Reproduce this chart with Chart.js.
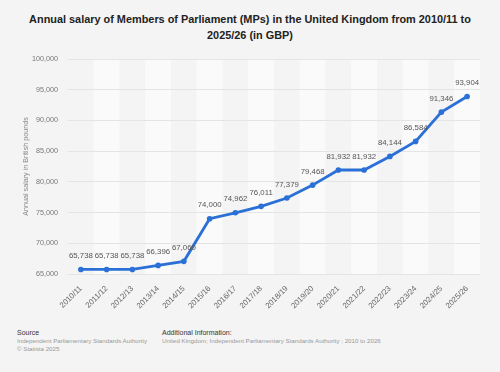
<!DOCTYPE html>
<html lang="en">
<head>
    <meta charset="UTF-8">
    <title>Annual salary of MPs in the UK</title>
    <style>
        body {
            margin: 0;
            background: #f4f4f4;
            font-family: 'Liberation Sans', Arial, sans-serif;
            width: 500px;
            height: 372px;
            position: relative;
            overflow: hidden;
        }
        .title {
            position: absolute;
            left: 0;
            top: 11px;
            width: 500px;
            text-align: center;
            font-weight: bold;
            font-size: 10.9px;
            line-height: 16px;
            color: #222;
        }
        #chart {
            position: absolute;
            left: 0;
            top: 0;
        }
        .foot {
            position: absolute;
            top: 329px;
            font-size: 6.2px;
            line-height: 8px;
            color: #999;
        }
        .foot b {
            color: #333;
            font-weight: normal;
            font-size: 7px;
        }
    </style>
</head>
<body>
    <div class="title">Annual salary of Members of Parliament (MPs) in the United Kingdom from 2010/11 to<br>2025/26 (in GBP)</div>
    <canvas id="chart" width="500" height="320"></canvas>
    <div class="foot" style="left:17px"><b>Source</b><br>Independent Parliamentary Standards Authority<br>© Statista 2025</div>
    <div class="foot" style="left:162px"><b>Additional Information:</b><br>United Kingdom; Independent Parliamentary Standards Authority ; 2010 to 2026</div>
    <script src="https://cdn.jsdelivr.net/npm/chart.js"></script>
    <script>
        const years = ['2010/11', '2011/12', '2012/13', '2013/14', '2014/15', '2015/16', '2016/17', '2017/18',
            '2018/19', '2019/20', '2020/21', '2021/22', '2022/23', '2023/24', '2024/25', '2025/26'];
        const salary = [65738, 65738, 65738, 66396, 67060, 74000, 74962, 76011,
            77379, 79468, 81932, 81932, 84144, 86584, 91346, 93904];
        const yTicks = [65000, 70000, 75000, 80000, 85000, 90000, 95000, 100000];

        const fmt = v => v.toLocaleString('en-US');
        const fam = '"Liberation Sans", Arial, sans-serif';

        // light stripes behind every second year
        const stripes = {
            id: 'stripes',
            beforeDraw(chart) {
                const { ctx, chartArea, scales } = chart;
                const w = scales.x.getPixelForValue(1) - scales.x.getPixelForValue(0);
                ctx.save();
                ctx.fillStyle = '#fafafa';
                years.forEach((y, i) => {
                    if (i % 2 === 1) {
                        const cx = scales.x.getPixelForValue(i);
                        ctx.fillRect(cx - w / 2, chartArea.top, w, chartArea.bottom - chartArea.top);
                    }
                });
                ctx.restore();
            }
        };

        const valueLabels = {
            id: 'valueLabels',
            afterDatasetsDraw(chart) {
                const { ctx } = chart;
                const meta = chart.getDatasetMeta(0);
                ctx.save();
                ctx.font = '7.8px ' + fam;
                ctx.fillStyle = '#555';
                ctx.textAlign = 'center';
                ctx.textBaseline = 'middle';
                meta.data.forEach((pt, i) => {
                    ctx.fillText(fmt(salary[i]), pt.x, pt.y - 13.5);
                });
                ctx.restore();
            }
        };

        new Chart(document.getElementById('chart'), {
            type: 'line',
            data: {
                labels: years,
                datasets: [{
                    data: salary,
                    borderColor: '#2a70d6',
                    backgroundColor: '#2a70d6',
                    borderWidth: 2.8,
                    pointRadius: 2.8,
                    pointBorderWidth: 0,
                    tension: 0
                }]
            },
            options: {
                responsive: false,
                devicePixelRatio: 1,
                animation: false,
                layout: { padding: { top: 59, right: 20, left: 22, bottom: 0 } },
                plugins: {
                    legend: { display: false },
                    tooltip: { enabled: false }
                },
                scales: {
                    x: {
                        offset: true,
                        grid: { display: false },
                        border: { display: false },
                        ticks: {
                            color: '#666',
                            font: { size: 7.8, family: fam },
                            minRotation: 45,
                            maxRotation: 45,
                            padding: 2
                        },
                        afterFit(s) { s.height = 46; }
                    },
                    y: {
                        min: 65000,
                        max: 100000,
                        afterBuildTicks(s) { s.ticks = yTicks.map(v => ({ value: v })); },
                        grid: { color: '#e4e4e4', drawTicks: false },
                        border: { display: false },
                        ticks: {
                            color: '#777',
                            padding: 10,
                            font: { size: 7.2, family: fam },
                            callback: v => fmt(v)
                        },
                        title: {
                            display: true,
                            text: 'Annual salary in British pounds',
                            color: '#888',
                            font: { size: 7.2, family: fam },
                            padding: { top: 0, bottom: 0 }
                        },
                        afterFit(s) { s.width = 46; }
                    }
                }
            },
            plugins: [stripes, valueLabels]
        });
    </script>
</body>
</html>
